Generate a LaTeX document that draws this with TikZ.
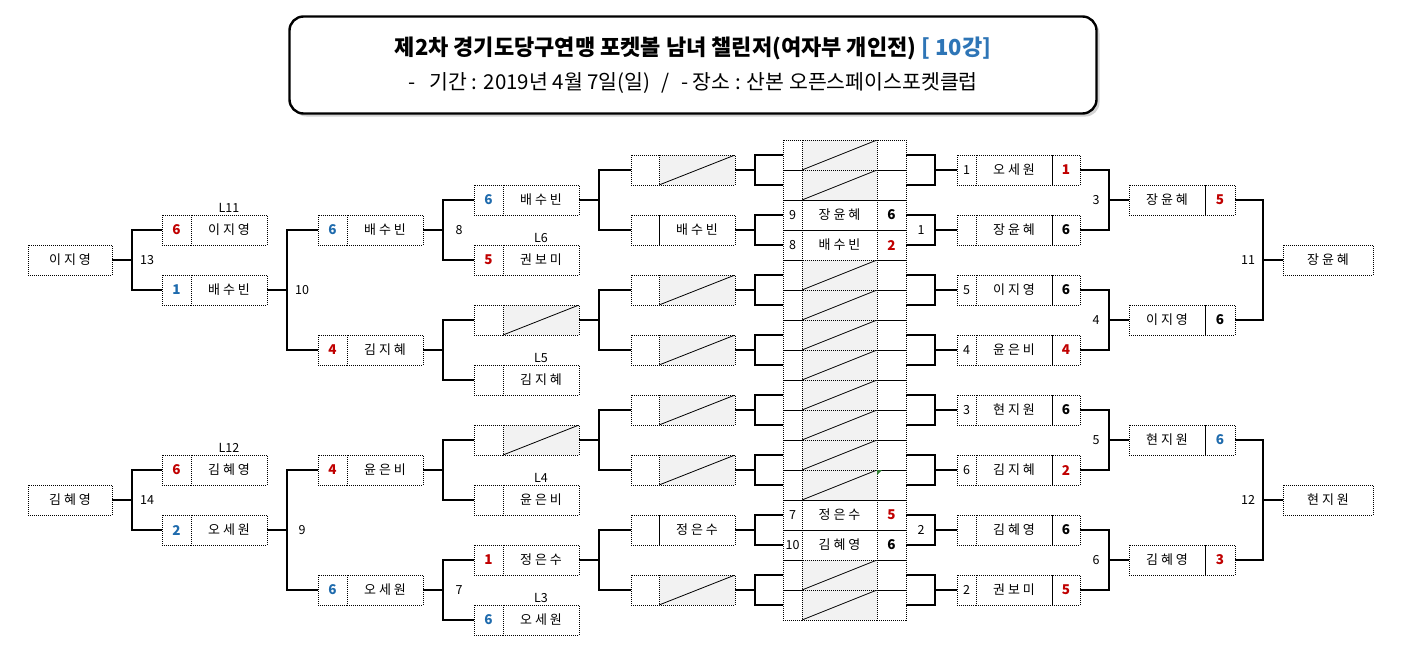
\documentclass[tikz,border=0pt]{standalone}
\usepackage{fontspec}
\setmainfont{Noto Sans CJK KR}
\newfontfamily\kr[LetterSpace=22]{Noto Sans CJK KR}
\usepackage{xcolor}
\usepackage{tikz}
\usetikzlibrary{positioning,shadows,calc}
\definecolor{scred}{HTML}{C00000}
\definecolor{scblue}{HTML}{1F6BAD}
\definecolor{hblue}{HTML}{2E75B6}
\definecolor{slashgray}{HTML}{F2F2F2}
\definecolor{errmark}{HTML}{2E7D32}

\begin{document}
\begin{tikzpicture}[x=1pt,y=-1pt,
  cell/.style={draw,dash pattern=on 1pt off 1pt,line width=0.8pt,minimum height=30pt,inner sep=0pt,outer sep=0pt},
  seedc/.style={cell,minimum width=19pt,font=\fontsize{12.5}{12.5}\selectfont},
  ptc/.style={cell,minimum width=29pt,font=\fontsize{13.5}{13.5}\selectfont\bfseries},
  namec/.style={cell,minimum width=76pt,font=\kr\fontsize{13}{13}\selectfont},
  cname/.style={namec,minimum width=75pt},
  finalc/.style={cell,minimum width=84pt,font=\kr\fontsize{13}{13}\selectfont},
  plain/.style={},
  slash/.style={fill=slashgray,path picture={\draw[solid,line width=0.8pt] (path picture bounding box.south west) -- (path picture bounding box.north east);}},
  link/.style={line width=1.2pt},
  rnd/.style={font=\fontsize{12.5}{12.5}\selectfont,inner sep=0pt},
  ltag/.style={font=\fontsize{12.5}{12.5}\selectfont,inner sep=1pt}
]
\useasboundingbox (0,0) rectangle (1405,651);

% title
\node[draw,line width=2.4pt,rounded corners=14pt,minimum width=807pt,minimum height=97pt,fill=white,
  drop shadow={shadow xshift=3pt,shadow yshift=-3pt,opacity=.35}] (titlebox) at (693,65) {};
\node[font=\bfseries\fontsize{22}{22}\selectfont] (head) at (693,48)
  {제2차 경기도당구연맹 포켓볼 남녀 챌린저(여자부 개인전) \textcolor{hblue}{[ 10강]}};
\node[font=\fontsize{20.5}{20.5}\selectfont] (place) at (693,83)
  {-\hspace{0.7em}기간 : 2019년 4월 7일(일)\hspace{0.55em}/\hspace{0.55em}- 장소 : 산본 오픈스페이스포켓클럽};

% left side
\node[finalc] (lf1) at (70,260) {이지영};
\node[finalc] (lf2) at (70,500) {김혜영};
\foreach \k/\y/\p/\col/\nm in {1/230/6/scred/이지영, 2/290/1/scblue/배수빈, 3/470/6/scred/김혜영, 4/530/2/scblue/오세원}{
  \node[ptc,text=\col] (l2s\k) at (176.5,\y) {\p};
  \node[namec,right=0pt of l2s\k] (l2n\k) {\nm};
}
\foreach \k/\y/\p/\col/\nm in {1/230/6/scblue/배수빈, 2/350/4/scred/김지혜, 3/470/4/scred/윤은비, 4/590/6/scblue/오세원}{
  \node[ptc,text=\col] (l3s\k) at (332.5,\y) {\p};
  \node[namec,right=0pt of l3s\k] (l3n\k) {\nm};
}
\foreach \k/\p/\col/\nm/\sty in {1/6/scblue/배수빈/plain, 2/5/scred/권보미/plain, 3/{}/black/{}/slash, 4/{}/black/김지혜/plain,
    5/{}/black/{}/slash, 6/{}/black/윤은비/plain, 7/1/scred/정은수/plain, 8/6/scblue/오세원/plain}{
  \node[ptc,text=\col] (l4s\k) at (488.5,{140+60*\k}) {\p};
  \node[namec,\sty,right=0pt of l4s\k] (l4n\k) {\nm};
}
\foreach \k/\nm/\sty in {1/{}/slash, 2/배수빈/plain, 3/{}/slash, 4/{}/slash, 5/{}/slash, 6/{}/slash, 7/정은수/plain, 8/{}/slash}{
  \node[ptc,minimum width=28pt] (l5s\k) at (645,{110+60*\k}) {};
  \node[namec,\sty,right=0pt of l5s\k] (l5n\k) {\nm};
}
\node[ltag,above=1pt of l2n1] (tag11) {L11};
\node[ltag,above=1pt of l2n3] (tag12) {L12};
\node[ltag,above=1pt of l4n2] (tag6) {L6};
\node[ltag,above=1pt of l4n4] (tag5) {L5};
\node[ltag,above=1pt of l4n6] (tag4) {L4};
\node[ltag,above=1pt of l4n8] (tag3) {L3};

% centre column
\foreach \k/\sd/\nm/\p/\col/\sty in {1/{}/{}/{}/black/slash, 2/{}/{}/{}/black/slash, 3/9/장윤혜/6/black/plain, 4/8/배수빈/2/scred/plain,
    5/{}/{}/{}/black/slash, 6/{}/{}/{}/black/slash, 7/{}/{}/{}/black/slash, 8/{}/{}/{}/black/slash,
    9/{}/{}/{}/black/slash, 10/{}/{}/{}/black/slash, 11/{}/{}/{}/black/slash, 12/{}/{}/{}/black/slash,
    13/7/정은수/5/scred/plain, 14/10/김혜영/6/black/plain, 15/{}/{}/{}/black/slash, 16/{}/{}/{}/black/slash}{
  \node[seedc] (cs\k) at (792.5,{125+30*\k}) {\sd};
  \node[cname,\sty,right=0pt of cs\k] (cn\k) {\nm};
  \node[ptc,text=\col,right=0pt of cn\k] (cp\k) {\p};
}
\fill[errmark] (cp12.north west) -- +(5,0) -- +(0,5) -- cycle;

% right side
\foreach \k/\sd/\nm/\p/\col in {1/1/오세원/1/scred, 2/{}/장윤혜/6/black, 3/5/이지영/6/black, 4/4/윤은비/4/scred,
    5/3/현지원/6/black, 6/6/김지혜/2/scred, 7/{}/김혜영/6/black, 8/2/권보미/5/scred}{
  \node[seedc] (rAs\k) at (966.5,{110+60*\k}) {\sd};
  \node[namec,right=0pt of rAs\k] (rAn\k) {\nm};
  \node[ptc,minimum width=28pt,text=\col,right=0pt of rAn\k] (rAp\k) {\p};
}
\foreach \k/\nm/\p/\col in {1/장윤혜/5/scred, 2/이지영/6/black, 3/현지원/6/scblue, 4/김혜영/3/scred}{
  \node[namec] (rBn\k) at (1167,{80+120*\k}) {\nm};
  \node[ptc,minimum width=30pt,text=\col,right=0pt of rBn\k] (rBp\k) {\p};
}
\node[finalc,minimum width=90pt] (rf1) at (1328,260) {장윤혜};
\node[finalc,minimum width=90pt] (rf2) at (1328,500) {현지원};

% brackets
\foreach \from/\a/\b in {lf1/l2s1/l2s2, lf2/l2s3/l2s4, l2n2/l3s1/l3s2, l2n4/l3s3/l3s4,
    l3n1/l4s1/l4s2, l3n2/l4s3/l4s4, l3n3/l4s5/l4s6, l3n4/l4s7/l4s8,
    l4n1/l5s1/l5s2, l4n3/l5s3/l5s4, l4n5/l5s5/l5s6, l4n7/l5s7/l5s8,
    l5n1/cs1/cs2, l5n2/cs3/cs4, l5n3/cs5/cs6, l5n4/cs7/cs8,
    l5n5/cs9/cs10, l5n6/cs11/cs12, l5n7/cs13/cs14, l5n8/cs15/cs16}
  \draw[link] (\from.east) -- ++(20,0) coordinate (j-\from) (\a.west) -| (j-\from) |- (\b.west);
\foreach \to/\a/\b/\d in {rAs1/cp1/cp2/22, rAs2/cp3/cp4/22, rAs3/cp5/cp6/22, rAs4/cp7/cp8/22,
    rAs5/cp9/cp10/22, rAs6/cp11/cp12/22, rAs7/cp13/cp14/22, rAs8/cp15/cp16/22,
    rBn1/rAp1/rAp2/20, rBn2/rAp3/rAp4/20, rBn3/rAp5/rAp6/20, rBn4/rAp7/rAp8/20,
    rf1/rBp1/rBp2/20, rf2/rBp3/rBp4/20}
  \draw[link] (\to.west) -- ++(-\d,0) coordinate (j-\to) (\a.east) -| (j-\to) |- (\b.east);

% match numbers
\node[rnd] (m13) at ([xshift=15pt]j-lf1) {13};
\node[rnd] (m14) at ([xshift=15pt]j-lf2) {14};
\node[rnd] (m10) at ([xshift=15pt]j-l2n2) {10};
\node[rnd] (m9) at ([xshift=15pt]j-l2n4) {9};
\node[rnd] (m8) at ([xshift=16pt]j-l3n1) {8};
\node[rnd] (m7) at ([xshift=16pt]j-l3n4) {7};
\node[rnd] (m1) at ([xshift=-14pt]j-rAs2) {1};
\node[rnd] (m2) at ([xshift=-14pt]j-rAs7) {2};
\node[rnd] (m3) at ([xshift=-13pt]j-rBn1) {3};
\node[rnd] (m4) at ([xshift=-13pt]j-rBn2) {4};
\node[rnd] (m5) at ([xshift=-13pt]j-rBn3) {5};
\node[rnd] (m6) at ([xshift=-13pt]j-rBn4) {6};
\node[rnd] (m11) at ([xshift=-15pt]j-rf1) {11};
\node[rnd] (m12) at ([xshift=-15pt]j-rf2) {12};
\end{tikzpicture}
\end{document}
